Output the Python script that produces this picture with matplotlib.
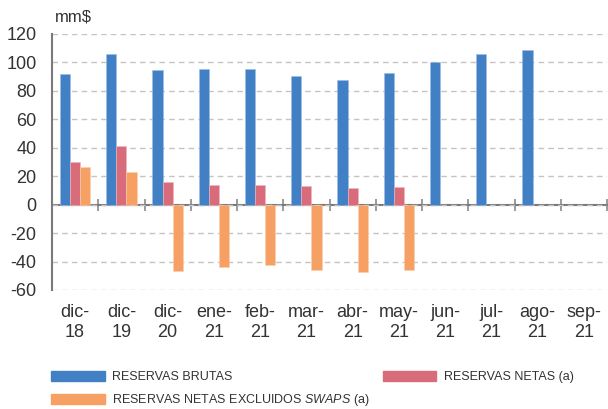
import numpy as np
import matplotlib.pyplot as plt
from matplotlib.patches import Patch

plt.rcParams['font.family'] = ['Liberation Sans', 'DejaVu Sans']
plt.rcParams['axes.unicode_minus'] = False
plt.rcParams['mathtext.fontset'] = 'custom'
plt.rcParams['mathtext.it'] = 'Liberation Sans:italic'
plt.rcParams['mathtext.rm'] = 'Liberation Sans'

months = ['dic-\n18', 'dic-\n19', 'dic-\n20', 'ene-\n21', 'feb-\n21', 'mar-\n21',
          'abr-\n21', 'may-\n21', 'jun-\n21', 'jul-\n21', 'ago-\n21', 'sep-\n21']
brutas = [92, 106, 94.5, 95.5, 95.3, 90.8, 87.8, 92.4, 100, 105.7, 108.8, np.nan]
netas = [30, 41.2, 15.7, 13.8, 14, 12.9, 11.9, 12.4, np.nan, np.nan, np.nan, np.nan]
sin_swaps = [26.4, 22.9, -46.3, -44, -42.5, -45.9, -47.3, -46.1, np.nan, np.nan, np.nan, np.nan]

c_blue = '#4180C4'
c_red = '#D96C7A'
c_orange = '#F7A064'
txt = '#333333'

fig = plt.figure(figsize=(6.08, 4.09), dpi=100)
ax = fig.add_axes([52/608, 1 - 290/409, 555/608, 256/409])

x = np.arange(len(months))
w = 0.22
ax.bar(x - w, brutas, w, color=c_blue, edgecolor='#9dbde3', linewidth=0.4)
ax.bar(x, netas, w, color=c_red, edgecolor='#f0b8bf', linewidth=0.4)
ax.bar(x + w, sin_swaps, w, color=c_orange, edgecolor='#fbd0b0', linewidth=0.4)

ax.set_xlim(-0.5, 11.5)
ax.set_ylim(-60, 120)
ax.set_yticks(np.arange(-60, 121, 20))
ax.yaxis.grid(True, linestyle=(0, (4, 3)), color='#c4c4c4', linewidth=1)
ax.set_axisbelow(True)

for s in ['top', 'right', 'bottom']:
    ax.spines[s].set_visible(False)
ax.spines['left'].set_color('#7a7a7a')
ax.spines['left'].set_linewidth(1.5)

ax.set_xticks(x)
ax.set_xticklabels(months, fontsize=13, color=txt, linespacing=1.25)
ax.tick_params(axis='x', length=0, pad=10)
ax.tick_params(axis='y', length=0, pad=11, labelsize=13, labelcolor=txt)

# zero line with category separators
sec = ax.secondary_xaxis(1/3)
sec.set_xticks(np.arange(-0.5, 12, 1))
sec.tick_params(axis='x', direction='inout', length=9, width=1.2, color='#8a8a8a',
                labelbottom=False)
sec.spines['bottom'].set_color('#7a7a7a')
sec.spines['bottom'].set_linewidth(1.5)

fig.text(55/608, 1 - 17/409, 'mm\\$', fontsize=12, color=txt, va='center', ha='left')

handles = [Patch(color=c_blue), Patch(color=c_orange), Patch(color=c_red)]
labels = ['RESERVAS BRUTAS', 'RESERVAS NETAS EXCLUIDOS $\\it{SWAPS}$ (a)',
          'RESERVAS NETAS (a)']
fig.legend(handles, labels, ncol=2, loc='upper left',
           bbox_to_anchor=(45/608, 1 - 365/409), frameon=False,
           prop={'size': 9}, labelcolor=txt, handlelength=4.3, handleheight=0.8,
           handletextpad=0.6, columnspacing=1.0, labelspacing=0.7, borderpad=0)

fig.savefig('out.png', dpi=100)
